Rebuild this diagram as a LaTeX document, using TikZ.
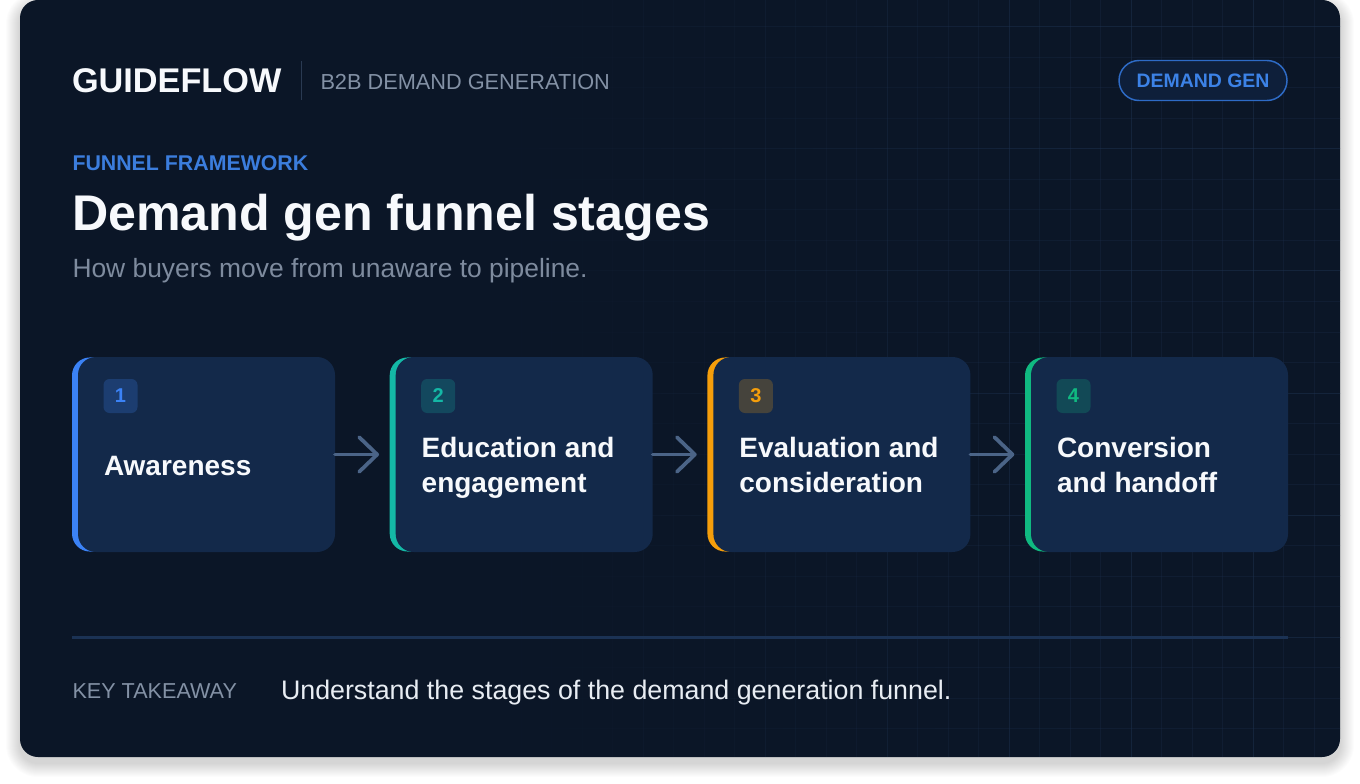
\documentclass[tikz,border=0pt]{standalone}
\usepackage{fontspec}
\setmainfont{Liberation Sans}
\usetikzlibrary{arrows.meta}
\definecolor{cardbg}{HTML}{0B1627}
\definecolor{cardc}{HTML}{13294A}
\definecolor{gridc}{HTML}{1E3250}
\definecolor{acc1}{HTML}{3B82F6}
\definecolor{acc2}{HTML}{14B8A6}
\definecolor{acc3}{HTML}{F59E0B}
\definecolor{acc4}{HTML}{10B981}
\definecolor{muted}{HTML}{8391A5}
\definecolor{subc}{HTML}{7E8B9E}
\definecolor{bluetxt}{HTML}{3B7DDD}
\definecolor{arrowc}{HTML}{4B6487}
\definecolor{sepc}{HTML}{1B3254}
\definecolor{divc}{HTML}{2A3A52}
\definecolor{whitetxt}{HTML}{F7F9FC}
\definecolor{bodytxt}{HTML}{E8EDF3}
\definecolor{pillfill}{HTML}{0E1F3A}
\definecolor{pillline}{HTML}{2E6BC6}
\definecolor{pilltxt}{HTML}{3C82E6}
\newcommand\twolines[2]{\vtop{\baselineskip=26.25pt\hbox{#1}\hbox{#2}}}
\newcommand\stagecard[4]{%
  \node[accbase, fill=#3, anchor=west] (#1a) at (#2,454.5) {};
  \node[cardnode, anchor=north east] (#1) at (#2+263,357) {};
  \node[numbadge, fill=#3!22!cardc, text=#3] (#1n) at (#2+48.5,396) {#4};
}
\begin{document}
\begin{tikzpicture}[x=0.75pt,y=-0.75pt,
  txt/.style={inner sep=0pt, outer sep=0pt, anchor=base west},
  accbase/.style={rectangle, rounded corners=13.5pt, minimum width=30pt, minimum height=145.6pt, inner sep=0pt, outer sep=0pt},
  cardnode/.style={rectangle, rounded corners=13.5pt, fill=cardc, minimum width=192.75pt, minimum height=146.25pt, inner sep=0pt, outer sep=0pt},
  numbadge/.style={rectangle, rounded corners=4.5pt, minimum size=25.5pt, inner sep=0pt, font=\fontsize{15pt}{18pt}\selectfont\bfseries},
  stagetitle/.style={txt, text=whitetxt, font=\fontsize{21pt}{26.25pt}\selectfont\bfseries},
  flowarrow/.style={arrowc, line width=2.8pt, line cap=round, shorten >=8pt,
    -{Straight Barb[length=13.5pt, width=26pt, line cap=round, line join=round]}},
  pill/.style={rectangle, rounded corners=15pt, draw=pillline, line width=1.1pt, fill=pillfill, text=pilltxt, minimum width=126pt, minimum height=30pt, inner sep=0pt, font=\fontsize{14.6pt}{17pt}\selectfont\bfseries}
]
\useasboundingbox (0,0) rectangle (1360,784);
\fill[white] (0,0) rectangle (1360,784);
% soft shadow
\foreach \i in {1,...,14} {
  \fill[black, opacity=0.01, rounded corners=13.5pt+\i*0.75pt] (20-\i,0-\i+6) rectangle (1340+\i,757+\i+6);
}
% main card
\fill[cardbg, rounded corners=13.5pt] (20,0) rectangle (1340,757);
% grid
\begin{scope}
\clip[rounded corners=13.5pt] (20,0) rectangle (1340,757);
\foreach \k in {-2,...,40} {
  \pgfmathsetmacro\xx{1253-30.5*\k}
  \pgfmathsetmacro\op{max(0,min(1,(\xx-480)/600))*(mod(\k,4)==0 ? 0.5 : 0.28)}
  \draw[gridc, line width=0.75pt, opacity=\op] (\xx,0) -- (\xx,757);
}
\foreach \j in {0,...,23} {
  \pgfmathsetmacro\yy{27+30.5*\j}
  \pgfmathsetmacro\w{mod(\j,4)==0 ? 0.5 : 0.28}
  \foreach \c in {0,...,43} {
    \pgfmathsetmacro\xa{20+30.5*\c}
    \pgfmathsetmacro\op{max(0,min(1,(\xa+15-480)/600))*\w}
    \draw[gridc, line width=0.75pt, opacity=\op] (\xa,\yy) -- ++(30.5,0);
  }
}
\end{scope}
% header
\node[txt, font=\fontsize{25.7pt}{30pt}\selectfont\bfseries, text=whitetxt] (brand) at (72,93) {GUIDEFLOW};
\draw[divc, line width=0.75pt] (301,61) -- (301,100);
\node[txt, font=\fontsize{16.3pt}{20pt}\selectfont, text=muted] (kicker) at (320.5,89.3) {B2B DEMAND GENERATION};
\node[pill] (tag) at (1203,80.5) {DEMAND GEN};
\node[txt, font=\fontsize{16pt}{19pt}\selectfont\bfseries, text=bluetxt] (eyebrow) at (72.5,170.7) {FUNNEL FRAMEWORK};
\node[txt, font=\fontsize{37.6pt}{44pt}\selectfont\bfseries, text=whitetxt] (title) at (72,230.5) {Demand gen funnel stages};
\node[txt, font=\fontsize{19.8pt}{24pt}\selectfont, text=subc] (subtitle) at (72.5,277.7) {How buyers move from unaware to pipeline.};
% stages
\stagecard{s1}{72}{acc1}{1}
\stagecard{s2}{389.7}{acc2}{2}
\stagecard{s3}{707.4}{acc3}{3}
\stagecard{s4}{1025}{acc4}{4}
\node[stagetitle] (s1t) at (104,475) {Awareness};
\node[stagetitle] (s2t) at (421.7,457) {\twolines{Education and}{engagement}};
\node[stagetitle] (s3t) at (739.4,457) {\twolines{Evaluation and}{consideration}};
\node[stagetitle] (s4t) at (1057,457) {\twolines{Conversion}{and handoff}};
\draw[flowarrow] (s1.east) -- (s2a.west);
\draw[flowarrow] (s2.east) -- (s3a.west);
\draw[flowarrow] (s3.east) -- (s4a.west);
% separator and takeaway
\draw[sepc, line width=2.25pt] (72,637) -- (1288,637);
\node[txt, font=\fontsize{16.2pt}{19pt}\selectfont, text=muted] (ktlabel) at (72.5,698.3) {KEY TAKEAWAY};
\node[txt, font=\fontsize{20.1pt}{24pt}\selectfont, text=bodytxt] (kttext) at (281,699) {Understand the stages of the demand generation funnel.};
\end{tikzpicture}
\end{document}
